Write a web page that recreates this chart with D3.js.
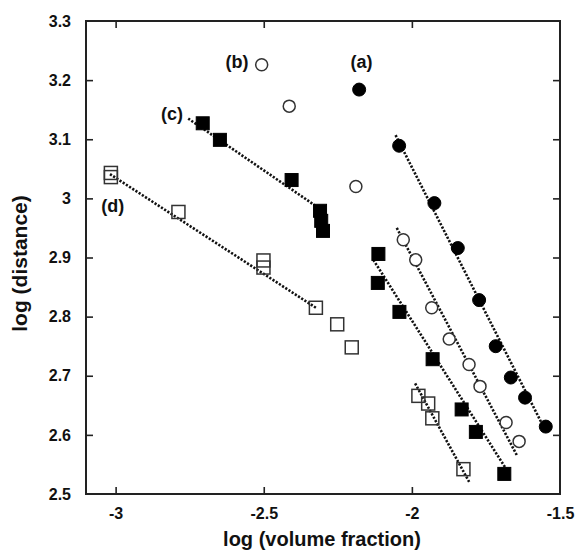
<!DOCTYPE html>
<html>
<head>
<meta charset="utf-8">
<script src="https://cdn.jsdelivr.net/npm/d3@7"></script>
<style>
  body { margin: 0; background: #fff; }
  svg { display: block; }
  text { font-family: "Liberation Sans", Arial, sans-serif; font-weight: bold; fill: #111; }
</style>
</head>
<body>
<svg id="chart" width="578" height="552"></svg>
<script>
// ---- data ----
const xTicks = [-3, -2.5, -2, -1.5];
const yTicks = [2.5, 2.6, 2.7, 2.8, 2.9, 3, 3.1, 3.2, 3.3];

// (a) filled circles
const aX = [-2.178, -2.043, -1.924, -1.845, -1.773, -1.717, -1.666, -1.618, -1.548];
const aY = [3.184, 3.089, 2.992, 2.916, 2.828, 2.750, 2.697, 2.663, 2.614];
// (b) open circles
const bX = [-2.507, -2.414, -2.189, -2.029, -1.987, -1.933, -1.874, -1.807, -1.770, -1.682, -1.638];
const bY = [3.226, 3.156, 3.020, 2.930, 2.896, 2.815, 2.762, 2.719, 2.682, 2.621, 2.589];
// (c) filled squares
const cX = [-2.706, -2.648, -2.406, -2.310, -2.306, -2.300, -2.113, -2.115, -2.042, -1.930, -1.832, -1.784, -1.688];
const cY = [3.127, 3.099, 3.031, 2.979, 2.962, 2.945, 2.906, 2.857, 2.808, 2.728, 2.643, 2.605, 2.534];
// (d) open squares
const dX = [-3.016, -3.016, -2.788, -2.501, -2.501, -2.324, -2.252, -2.203, -1.978, -1.945, -1.931, -1.826];
const dY = [3.043, 3.036, 2.977, 2.895, 2.883, 2.815, 2.787, 2.748, 2.666, 2.653, 2.628, 2.542];

// dotted fit lines (end points)
const fitA  = { x: [-2.055, -1.562], y: [3.107, 2.620] };
const fitB  = { x: [-2.051, -1.644], y: [2.950, 2.564] };
const fitC1 = { x: [-2.755, -2.324], y: [3.135, 2.987] };
const fitC2 = { x: [-2.130, -1.680], y: [2.896, 2.541] };
const fitD1 = { x: [-3.019, -2.324], y: [3.041, 2.815] };
const fitD2 = { x: [-1.989, -1.804], y: [2.687, 2.518] };

const labels = ["(a)", "(b)", "(c)", "(d)"];
const labelX = [-2.17, -2.59, -2.81, -3.01];
const labelY = [3.229, 3.229, 3.141, 2.985];

// ---- drawing ----
const svg = d3.select("#chart");
const L = 86, R = 560, T = 21, B = 494;
const x = d3.scaleLinear().domain([-3.1, -1.5]).range([L, R]);
const y = d3.scaleLinear().domain([2.5, 3.3]).range([B, T]);

const tickLen = 7;
const fmt = d => String(d);

// axes with inward ticks
const gB = svg.append("g").attr("transform", `translate(0,${B})`)
  .call(d3.axisBottom(x).tickValues(xTicks).tickSizeInner(-tickLen).tickSizeOuter(0).tickPadding(14).tickFormat(fmt));
const gT = svg.append("g").attr("transform", `translate(0,${T})`)
  .call(d3.axisTop(x).tickValues(xTicks.filter(v => v < -1.5)).tickSizeInner(-tickLen).tickSizeOuter(0).tickFormat(""));
const gL = svg.append("g").attr("transform", `translate(${L},0)`)
  .call(d3.axisLeft(y).tickValues(yTicks).tickSizeInner(-tickLen).tickSizeOuter(0).tickPadding(15).tickFormat(fmt));
const gR = svg.append("g").attr("transform", `translate(${R},0)`)
  .call(d3.axisRight(y).tickValues(yTicks.filter(v => v > 2.5 && v < 3.3)).tickSizeInner(-tickLen).tickSizeOuter(0).tickFormat(""));

[gB, gT, gL, gR].forEach(g => {
  g.select(".domain").remove();
  g.selectAll(".tick line").attr("stroke", "#222").attr("stroke-width", 1.6);
  g.selectAll(".tick text").attr("font-size", 16).attr("font-weight", "bold")
    .attr("font-family", "'Liberation Sans', Arial, sans-serif").attr("fill", "#111");
});
// remove ticks that overlap the frame corners
gB.selectAll(".tick").filter(d => d === -1.5).select("line").remove();
gL.selectAll(".tick").filter(d => d === 2.5 || d === 3.3).select("line").remove();

// frame
svg.append("rect").attr("x", L).attr("y", T).attr("width", R - L).attr("height", B - T)
  .attr("fill", "none").attr("stroke", "#222").attr("stroke-width", 2);

// fit lines
const line = d3.line().x(d => x(d[0])).y(d => y(d[1]));
[fitA, fitB, fitC1, fitC2, fitD1, fitD2].forEach(f => {
  svg.append("path").datum(d3.zip(f.x, f.y)).attr("d", line)
    .attr("fill", "none").attr("stroke", "#111").attr("stroke-width", 2.6)
    .attr("stroke-dasharray", "2.2,1.6");
});

const r = 6.5, s = 13;
function circles(xs, ys, filled) {
  svg.append("g").selectAll("circle").data(d3.zip(xs, ys)).join("circle")
    .attr("cx", d => x(d[0])).attr("cy", d => y(d[1])).attr("r", filled ? r : r - 0.5)
    .attr("fill", filled ? "#000" : "#fff").attr("stroke", filled ? "#000" : "#333")
    .attr("stroke-width", filled ? 1 : 1.5);
}
function squares(xs, ys, filled) {
  svg.append("g").selectAll("rect").data(d3.zip(xs, ys)).join("rect")
    .attr("x", d => x(d[0]) - s / 2).attr("y", d => y(d[1]) - s / 2)
    .attr("width", s).attr("height", s)
    .attr("fill", filled ? "#000" : "none").attr("stroke", filled ? "#000" : "#333")
    .attr("stroke-width", filled ? 1 : 1.5);
}
squares(dX, dY, false);
squares(cX, cY, true);
circles(bX, bY, false);
circles(aX, aY, true);

// series labels
svg.append("g").selectAll("text").data(labels).join("text")
  .attr("x", (d, i) => x(labelX[i])).attr("y", (d, i) => y(labelY[i]))
  .attr("text-anchor", "middle").attr("dominant-baseline", "middle")
  .attr("font-size", 18).attr("font-weight", "bold").text(d => d);

// axis titles
svg.append("text").attr("x", (L + R) / 2 - 1).attr("y", 546).attr("text-anchor", "middle")
  .attr("font-size", 20).text("log (volume fraction)");
svg.append("text").attr("transform", `translate(27,${(T + B) / 2 + 6}) rotate(-90)`)
  .attr("text-anchor", "middle").attr("font-size", 21).text("log (distance)");
</script>
</body>
</html>
